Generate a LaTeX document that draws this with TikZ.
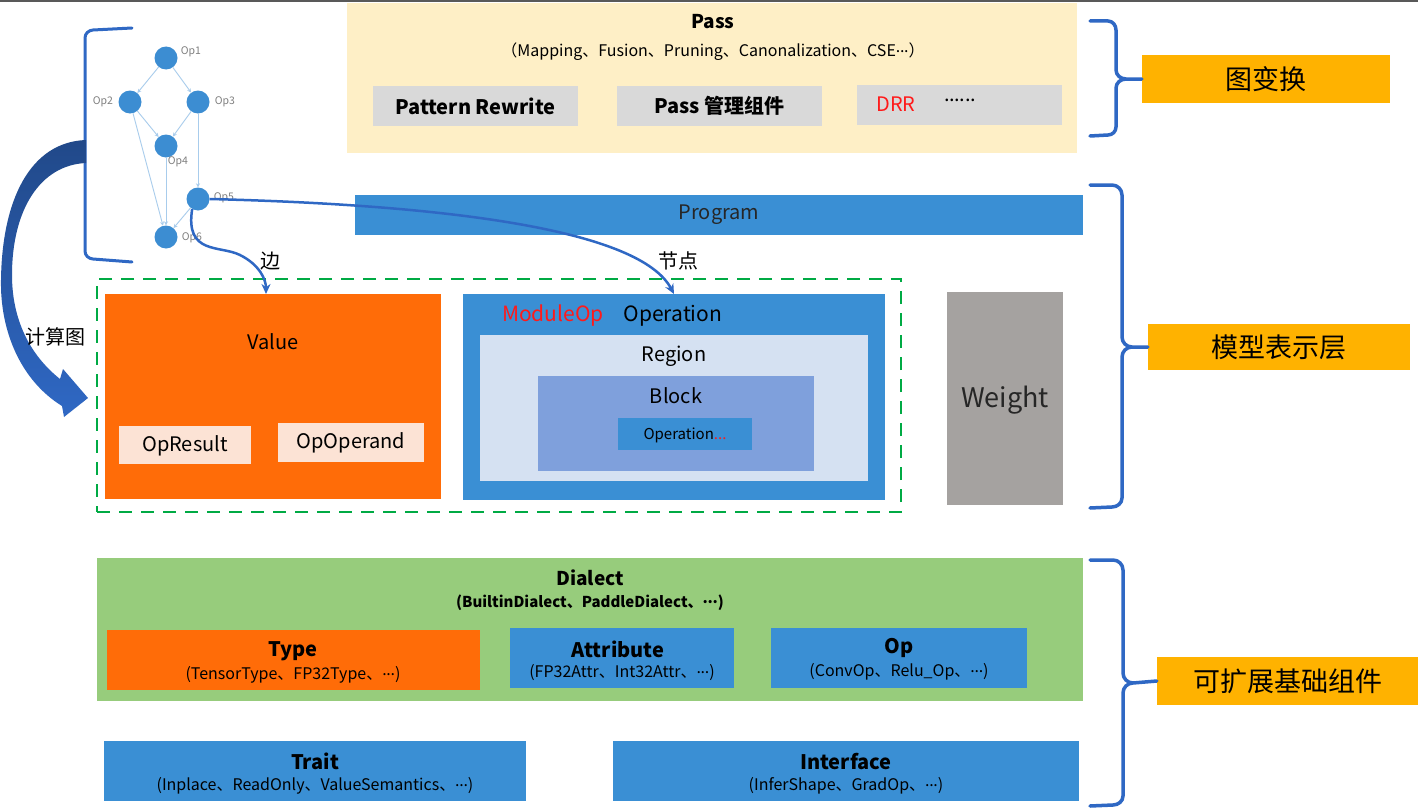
\documentclass[tikz,border=0pt]{standalone}
\usepackage{fontspec}
\setmainfont{Noto Sans CJK SC}
\usetikzlibrary{arrows.meta}
\newcommand\fsz[1]{\fontsize{#1}{#1}\selectfont}
\newcommand\mdots{\raisebox{0.28em}{.\kern-0.3pt.\kern-0.3pt.}}
\definecolor{passbg}{HTML}{FEEFC6}
\definecolor{graybox}{HTML}{D9D9D9}
\definecolor{blu}{HTML}{3A8FD4}
\definecolor{orng}{HTML}{FF6C08}
\definecolor{peach}{HTML}{FCE3D5}
\definecolor{regionbg}{HTML}{D5E1F2}
\definecolor{blockbg}{HTML}{7FA0DC}
\definecolor{weightbg}{HTML}{A5A2A0}
\definecolor{dialbg}{HTML}{97CC7C}
\definecolor{gold}{HTML}{FFB200}
\definecolor{bracec}{HTML}{2F68C4}
\definecolor{dashgreen}{HTML}{00AA44}
\definecolor{edgeblue}{HTML}{A8CCEC}
\definecolor{nodeblue}{HTML}{3C8DD2}
\definecolor{redtxt}{HTML}{FF1A1A}
\begin{document}
\begin{tikzpicture}[x=1pt,y=-1pt,
  rbox/.style={inner sep=0pt, outer sep=0pt, draw=none},
  txt/.style={inner sep=0pt, outer sep=0pt, text=black},
  gedge/.style={draw=edgeblue, line width=0.9pt, -{Stealth[length=4pt,width=4pt]}},
  gnode/.style={circle, fill=nodeblue, minimum size=23pt, inner sep=0pt},
  oplab/.style={inner sep=0pt, text=black!50, font=\fsz{10.5}},
  bracepath/.style={draw=bracec, line width=3.5pt, line cap=round, line join=round},
  conn/.style={draw=bracec, line width=2.5pt, -{Stealth[length=10pt,width=9pt]}},
  tag/.style={fill=gold, inner sep=0pt, font=\fsz{27}},
  subt/.style={txt, font=\fsz{16}},
]
\useasboundingbox (0,0) rectangle (1418,808);
\fill[white] (0,0) rectangle (1418,808);
\draw[black!65, line width=2pt] (0,1) -- (1418,1);

% ---------- Pass ----------
\node[rbox, fill=passbg, minimum width=730, minimum height=150] (pass) at (712,78) {};
\node[txt, font=\fsz{19}\bfseries] (passT) at (713,22) {Pass};
\node[subt] (passS) at (713,52) {（Mapping、Fusion、Pruning、Canonalization、CSE\mdots）};
\node[rbox, fill=graybox, minimum width=205, minimum height=40] (pr) at (475.5,106) {};
\node[txt, font=\fsz{20}\bfseries] (prT) at (475.5,106) {Pattern Rewrite};
\node[rbox, fill=graybox, minimum width=205, minimum height=40] (pm) at (719.5,106) {};
\node[txt, font=\fsz{20}\bfseries] (pmT) at (719.5,106) {Pass 管理组件};
\node[rbox, fill=graybox, minimum width=205, minimum height=40] (drr) at (959.5,105) {};
\node[txt, font=\fsz{20}, text=redtxt] (drrT) at (896,104) {DRR};
\node[txt, font=\fsz{20}] (drrD) at (960,103) {\mdots\kern-0.3pt\mdots};

% ---------- Program ----------
\node[rbox, fill=blu, minimum width=728, minimum height=40] (prog) at (719,215) {};
\node[txt, font=\fsz{20}, text=black!85] (progT) at (719,215) {Program};

% ---------- computation graph ----------
\draw[bracepath, line width=3pt] (132,28) -- (93,30) to[out=183,in=90] (85,38) -- (85,251) to[out=-90,in=177] (93,259) -- (132,262);
\node[gnode] (op1) at (166,58) {};
\node[gnode] (op2) at (130,102) {};
\node[gnode] (op3) at (198,102) {};
\node[gnode] (op4) at (166,146) {};
\node[gnode] (op5) at (198,199) {};
\node[gnode] (op6) at (166,237) {};
\draw[gedge] (op1) -- (op2);
\draw[gedge] (op1) -- (op3);
\draw[gedge] (op2) -- (op4);
\draw[gedge] (op3) -- (op4);
\draw[gedge] (op2) -- (op6);
\draw[gedge] (op4) -- (op6);
\draw[gedge] (op3) -- (op5);
\draw[gedge] (op5) -- (op6);
\node[oplab] (l1) at (191,52) {Op1};
\node[oplab] (l2) at (103,102) {Op2};
\node[oplab] (l3) at (225,102) {Op3};
\node[oplab] (l4) at (178,162) {Op4};
\node[oplab] (l5) at (224,198) {Op5};
\node[oplab] (l6) at (192,238) {Op6};

% big curved arrow
\shade[top color=bracec!70!black, bottom color=bracec]
  (86,163) .. controls (40,165) and (12,210) .. (12,275)
  .. controls (12,320) and (30,355) .. (60,379)
  -- (63,369) -- (88,398) -- (64,417) -- (62,406)
  .. controls (20,380) and (0,330) .. (1,280)
  .. controls (2,200) and (30,142) .. (86,140) -- cycle;
\node[txt, font=\fsz{20}] (jst) at (55,337) {计算图};

% ---------- dashed group ----------
\node[rbox, draw=dashgreen, dash pattern=on 13pt off 9pt, line width=2.5pt, minimum width=804, minimum height=233] (grp) at (499,395.5) {};

\node[rbox, fill=orng, minimum width=336, minimum height=205] (value) at (273,396.5) {};
\node[txt, font=\fsz{20}] (valueT) at (273,342) {Value};
\node[rbox, fill=peach, minimum width=132, minimum height=38] (opres) at (185,445) {};
\node[txt, font=\fsz{20}] (opresT) at (185,446) {OpResult};
\node[rbox, fill=peach, minimum width=146, minimum height=39] (opopd) at (351,442.5) {};
\node[txt, font=\fsz{20}] (opopdT) at (351,443) {OpOperand};

\node[rbox, fill=blu, minimum width=422, minimum height=206] (oper) at (674,397) {};
\node[txt, font=\fsz{21}, text=redtxt] (modT) at (553,316) {ModuleOp};
\node[txt, font=\fsz{21}] (operT) at (673,316) {Operation};
\node[rbox, fill=regionbg, minimum width=388, minimum height=146] (region) at (674,408) {};
\node[txt, font=\fsz{20}] (regionT) at (674,356) {Region};
\node[rbox, fill=blockbg, minimum width=276, minimum height=95] (block) at (676,423.5) {};
\node[txt, font=\fsz{20}] (blockT) at (676,396) {Block};
\node[rbox, fill=blu, minimum width=134, minimum height=32] (inop) at (685,434) {};
\node[txt, font=\fsz{15}] (inopT) at (685,435) {Operation\textcolor{redtxt}{...}};

\node[rbox, fill=weightbg, minimum width=116, minimum height=213] (weight) at (1005,398.5) {};
\node[txt, font=\fsz{27}, text=black!85] (weightT) at (1005,400) {Weight};

% connectors from graph
\draw[conn] (op5.east) .. controls (450,205) and (640,230) .. (oper.north);
\draw[conn] (op5.240) .. controls (185,255) and (220,245) .. (240,255)
  .. controls (260,265) and (266,280) .. ([xshift=-7pt]value.north);
\node[txt, font=\fsz{20}] (bian) at (270,261) {边};
\node[txt, font=\fsz{20}] (jd) at (678,261) {节点};

% ---------- Dialect ----------
\node[rbox, fill=dialbg, minimum width=986, minimum height=143] (dial) at (590,629.5) {};
\node[txt, font=\fsz{19}\bfseries] (dialT) at (590,578) {Dialect};
\node[txt, font=\fsz{15}\bfseries] (dialS) at (590,603) {(BuiltinDialect、PaddleDialect、\mdots)};

\node[rbox, fill=orng, minimum width=373, minimum height=60] (type) at (293.5,660) {};
\node[txt, font=\fsz{20}\bfseries] (typeT) at (293,651) {Type};
\node[subt] (typeS) at (293,675) {(TensorType、FP32Type、\mdots)};

\node[rbox, fill=blu, minimum width=224, minimum height=60] (attr) at (622,658) {};
\node[txt, font=\fsz{20}\bfseries] (attrT) at (618,649) {Attribute};
\node[subt] (attrS) at (622,673) {(FP32Attr、Int32Attr、\mdots)};

\node[rbox, fill=blu, minimum width=256, minimum height=60] (opb) at (899,658) {};
\node[txt, font=\fsz{20}\bfseries] (opbT) at (899,648) {Op};
\node[subt] (opbS) at (899,672) {(ConvOp、Relu\_Op、\mdots)};

\node[rbox, fill=blu, minimum width=422, minimum height=60] (trait) at (315,771) {};
\node[txt, font=\fsz{20}\bfseries] (traitT) at (315,761) {Trait};
\node[subt] (traitS) at (315,786) {(Inplace、ReadOnly、ValueSemantics、\mdots)};

\node[rbox, fill=blu, minimum width=466, minimum height=60] (iface) at (846,771) {};
\node[txt, font=\fsz{20}\bfseries] (ifaceT) at (846,761) {Interface};
\node[subt] (ifaceS) at (846,786) {(InferShape、GradOp、\mdots)};

% ---------- right braces and tags ----------
\node[tag, minimum width=248, minimum height=48] (tag1) at (1266,79) {图变换};
\node[tag, minimum width=262, minimum height=46] (tag2) at (1279,347) {模型表示层};
\node[tag, minimum width=261, minimum height=48] (tag3) at (1287.5,681) {可扩展基础组件};

\draw[bracepath] (1090,21) -- (1108,21) to[out=0,in=90] (1116,30) -- (1116,70) to[out=-90,in=180] (1126,79) -- (tag1.west)
  (1126,79) to[out=180,in=90] (1116,88) -- (1116,127) to[out=-90,in=0] (1108,135) -- (1090,136);
\draw[bracepath] (1090,185) -- (1112,185) to[out=0,in=90] (1122,195) -- (1122,337) to[out=-90,in=180] (1132,347) -- (tag2.west)
  (1132,347) to[out=180,in=90] (1122,357) -- (1122,498) to[out=-90,in=0] (1112,507) -- (1090,508);
\draw[bracepath] (1090,560) -- (1113,560) to[out=0,in=90] (1123,570) -- (1123,673) to[out=-90,in=180] (1133,683) -- (tag3.west)
  (1133,683) to[out=180,in=90] (1123,693) -- (1123,796) to[out=-90,in=0] (1113,805) -- (1090,806);
\end{tikzpicture}
\end{document}
